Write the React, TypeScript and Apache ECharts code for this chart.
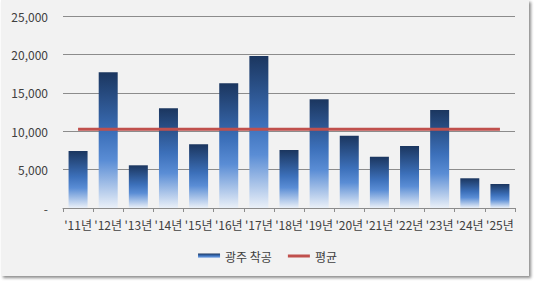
import React, { useEffect, useRef } from "react";
import * as echarts from "echarts";

const categories = ["'11년", "'12년", "'13년", "'14년", "'15년", "'16년", "'17년", "'18년", "'19년", "'20년", "'21년", "'22년", "'23년", "'24년", "'25년"];
const starts = [7420, 17670, 5560, 12980, 8290, 16230, 19790, 7550, 14150, 9410, 6680, 8070, 12760, 3870, 3125];
const averageValue = 10240;
const averageLine = categories.map(() => averageValue);
const barName = "광주 착공";
const lineName = "평균";

export default function App() {
  const ref = useRef<HTMLDivElement>(null);
  useEffect(() => {
    if (!ref.current) return;
    const chart = echarts.init(ref.current, undefined, { renderer: "svg" });
    const font = "'Malgun Gothic', 'Noto Sans CJK KR', sans-serif";
    chart.setOption({
      animation: false,
      textStyle: { fontFamily: font },
      graphic: [
        {
          type: "rect",
          z: -10,
          silent: true,
          shape: { x: 1, y: 0, width: 528, height: 276 },
          style: {
            fill: "#f2f2f2",
            shadowBlur: 3,
            shadowOffsetX: 2,
            shadowOffsetY: 2,
            shadowColor: "rgba(0,0,0,0.45)",
          },
        },
      ],
      grid: { left: 63, right: 20, top: 16, bottom: 76 },
      legend: {
        bottom: 17,
        left: "center",
        itemWidth: 22,
        itemHeight: 5,
        itemGap: 16,
        textStyle: { fontSize: 12, color: "#404040", fontFamily: font },
        data: [
          { name: barName, icon: "rect" },
          { name: lineName, icon: "path://M0,0H22V3H0Z", itemStyle: { color: "#c0504d" } },
        ],
      },
      xAxis: {
        type: "category",
        data: categories,
        axisLine: { show: true, lineStyle: { color: "#8c8c8c", width: 1 } },
        axisTick: { show: true, length: 4, lineStyle: { color: "#8c8c8c" } },
        axisLabel: { fontSize: 12, color: "#404040", margin: 10, interval: 0, fontFamily: font },
      },
      yAxis: {
        type: "value",
        min: 0,
        max: 25000,
        interval: 5000,
        axisLine: { show: false },
        axisTick: { show: false },
        splitLine: { lineStyle: { color: "#8c8c8c", width: 1 } },
        axisLabel: {
          fontSize: 12,
          color: "#404040",
          margin: 15,
          fontFamily: font,
          formatter: (v: number) => (v === 0 ? "-" : v.toLocaleString("en-US")),
        },
      },
      series: [
        {
          name: barName,
          type: "bar",
          data: starts,
          barWidth: 19,
          itemStyle: {
            color: new echarts.graphic.LinearGradient(0, 0, 0, 1, [
              { offset: 0, color: "#1b365f" },
              { offset: 0.45, color: "#3c70ba" },
              { offset: 0.65, color: "#5a8dd5" },
              { offset: 1, color: "#eaf0f8" },
            ]),
          },
        },
        {
          name: lineName,
          type: "line",
          data: averageLine,
          symbol: "none",
          lineStyle: { color: "#c0504d", width: 3 },
          itemStyle: { color: "#c0504d" },
          z: 5,
        },
      ],
    });
    return () => chart.dispose();
  }, []);
  return (
    <div
      ref={ref}
      style={{ position: "fixed", left: 0, top: 0, width: 535, height: 284, background: "#ffffff" }}
    />
  );
}
